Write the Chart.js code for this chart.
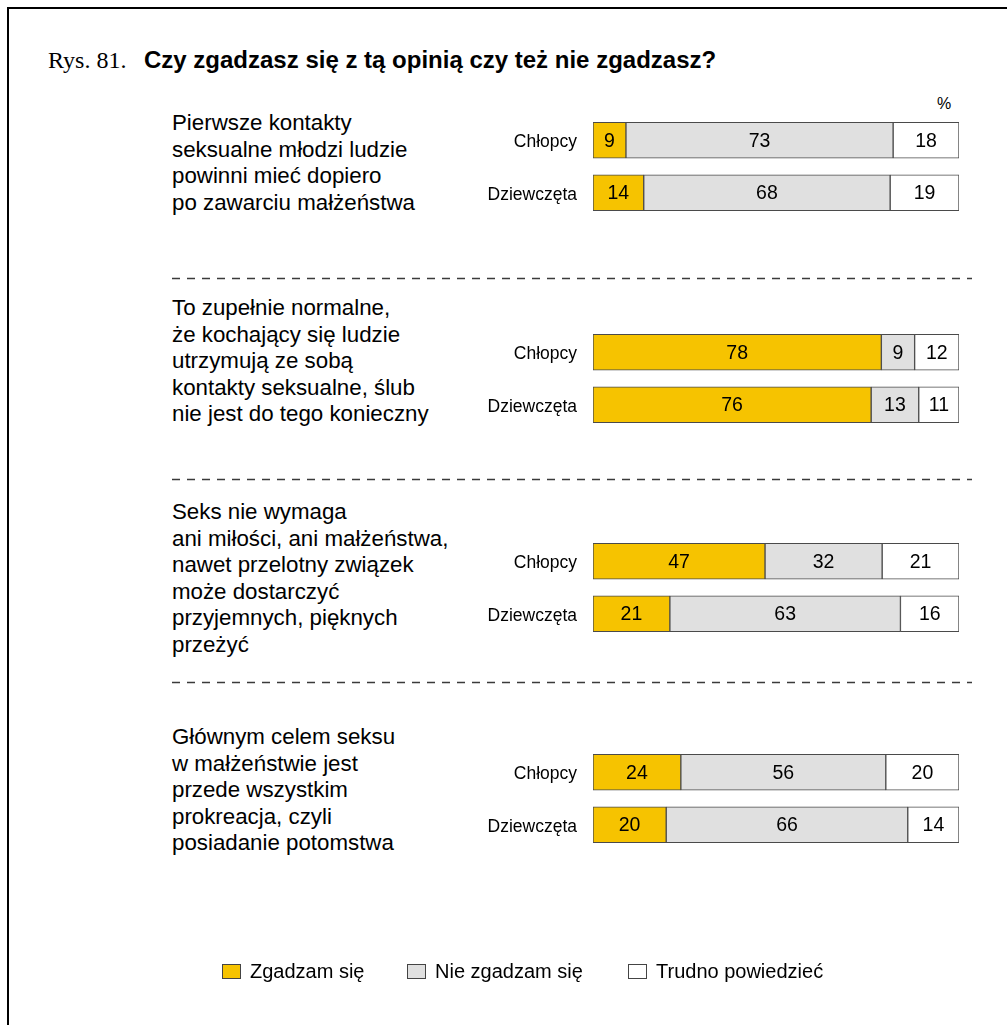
<!DOCTYPE html>
<html lang="pl">
<head>
<meta charset="utf-8">
<script src="https://cdn.jsdelivr.net/npm/chart.js@4/dist/chart.umd.min.js"></script>
<style>
  body {
    margin: 0;
    width: 1007px;
    height: 1025px;
    position: relative;
    overflow: hidden;
    background: #fff;
    font-family: "Liberation Sans", Arial, sans-serif;
    color: #000;
  }
  .frame {
    position: absolute;
    left: 7px; top: 7px; right: -10px; bottom: -10px;
    border-left: 2px solid #000;
    border-top: 2px solid #000;
  }
  .rys { position: absolute; left: 48px; top: 48px; font-size: 24px; line-height: 24px; white-space: nowrap;
         font-family: "Liberation Serif", "Times New Roman", serif; }
  .heading { position: absolute; left: 144px; top: 48px; font-size: 24px; line-height: 24px; white-space: nowrap; font-weight: bold; }
  .pct { position: absolute; left: 937px; top: 95px; font-size: 16px; line-height: 18px; }
  .question {
    position: absolute;
    left: 172px;
    font-size: 22.3px;
    line-height: 26.6px;
    white-space: nowrap;
  }
  .group { position: absolute; left: 470px; width: 489px; height: 105px; }
  #dashes { position: absolute; left: 0; top: 0; }
  .legend { position: absolute; top: 960px; left: 0; font-size: 20px; line-height: 22px; }
  .legend span.item { position: absolute; white-space: nowrap; }
  .legend i {
    position: absolute; top: 4px; left: 0; width: 17px; height: 13px;
    border: 1px solid #444;
  }
  .legend span.txt { position: absolute; top: 0; left: 28px; }
</style>
</head>
<body>
<div class="frame"></div>
<div class="rys">Rys. 81.</div>
<div class="heading">Czy zgadzasz się z tą opinią czy też nie zgadzasz?</div>
<div class="pct">%</div>

<div id="questions"></div>
<div id="charts"></div>
<svg id="dashes" width="1007" height="1025"></svg>
<div class="legend" id="legend"></div>

<script>
// --- data ---
const categories = ["Chłopcy", "Dziewczęta"];
const seriesNames = ["Zgadzam się", "Nie zgadzam się", "Trudno powiedzieć"];
const seriesColors = ["#F6C300", "#E0E0E0", "#FFFFFF"];

const questions = [
  ["Pierwsze kontakty", "seksualne młodzi ludzie", "powinni mieć dopiero", "po zawarciu małżeństwa"],
  ["To zupełnie normalne,", "że kochający się ludzie", "utrzymują ze sobą", "kontakty seksualne, ślub", "nie jest do tego konieczny"],
  ["Seks nie wymaga", "ani miłości, ani małżeństwa,", "nawet przelotny związek", "może dostarczyć", "przyjemnych, pięknych", "przeżyć"],
  ["Głównym celem seksu", "w małżeństwie jest", "przede wszystkim", "prokreacja, czyli", "posiadanie potomstwa"]
];

// one row per question: [Chłopcy, Dziewczęta]
const agree    = [[9, 14], [78, 76], [47, 21], [24, 20]];
const disagree = [[73, 68], [9, 13], [32, 63], [56, 66]];
const hard     = [[18, 19], [12, 11], [21, 16], [20, 14]];

// layout (px)
const questionTops = [110, 295, 499, 724];
const chartTops = [114, 325.5, 535, 745.5];
const dashY = [278.5, 479.5, 682.5];

// value labels drawn in the middle of each segment
const valueLabels = {
  id: "valueLabels",
  afterDatasetsDraw(chart) {
    const ctx = chart.ctx;
    ctx.save();
    ctx.font = "19.5px 'Liberation Sans', Arial, sans-serif";
    ctx.fillStyle = "#000";
    ctx.textAlign = "center";
    ctx.textBaseline = "middle";
    chart.data.datasets.forEach((ds, i) => {
      const meta = chart.getDatasetMeta(i);
      meta.data.forEach((bar, j) => {
        const x = (bar.x + bar.base) / 2;
        ctx.fillText(String(ds.raw[j]), x, bar.y + 1);
      });
    });
    ctx.restore();
  }
};

function makeChart(canvas, g) {
  const series = [agree[g], disagree[g], hard[g]];
  const totals = categories.map((_, j) => series.reduce((s, arr) => s + arr[j], 0));

  new Chart(canvas.getContext("2d"), {
    type: "bar",
    data: {
      labels: categories,
      datasets: series.map((vals, i) => ({
        label: seriesNames[i],
        raw: vals,
        data: vals.map((v, j) => v / totals[j] * 100),
        backgroundColor: seriesColors[i],
        borderColor: "#4a4a4a",
        borderWidth: 1,
        borderSkipped: false,
        barThickness: 36
      }))
    },
    options: {
      indexAxis: "y",
      responsive: false,
      animation: false,
      layout: { padding: 0 },
      plugins: { legend: { display: false }, tooltip: { enabled: false } },
      scales: {
        x: { stacked: true, min: 0, max: 100, display: false },
        y: {
          stacked: true,
          grid: { display: false, drawTicks: false },
          border: { display: false },
          ticks: {
            color: "#000",
            padding: 16,
            labelOffset: 2,
            font: { family: "'Liberation Sans', Arial, sans-serif", size: 17.5 }
          },
          afterFit(scale) {
            // fixed label column, no extra top/bottom room
            scale.width = 123;
            scale.paddingTop = 0;
            scale.paddingBottom = 0;
          }
        }
      }
    },
    plugins: [valueLabels]
  });
}

function buildQuestions() {
  const box = document.getElementById("questions");
  questions.forEach((lines, g) => {
    const div = document.createElement("div");
    div.className = "question";
    div.style.top = questionTops[g] + "px";
    div.innerHTML = lines.join("<br>");
    box.appendChild(div);
  });
}

function buildCharts() {
  const box = document.getElementById("charts");
  chartTops.forEach((top, g) => {
    const wrap = document.createElement("div");
    wrap.className = "group";
    wrap.style.top = top + "px";
    const canvas = document.createElement("canvas");
    canvas.width = 489;
    canvas.height = 105;
    wrap.appendChild(canvas);
    box.appendChild(wrap);
    makeChart(canvas, g);
  });
}

function buildDashes() {
  const svg = document.getElementById("dashes");
  dashY.forEach(y => {
    const line = document.createElementNS("http://www.w3.org/2000/svg", "line");
    line.setAttribute("x1", 172);
    line.setAttribute("x2", 972);
    line.setAttribute("y1", y);
    line.setAttribute("y2", y);
    line.setAttribute("stroke", "#3a3a3a");
    line.setAttribute("stroke-width", 1.3);
    line.setAttribute("stroke-dasharray", "8 7");
    svg.appendChild(line);
  });
}

function buildLegend() {
  const legend = document.getElementById("legend");
  const boxX = [222, 407, 628];
  seriesNames.forEach((name, i) => {
    const item = document.createElement("span");
    item.className = "item";
    item.style.left = boxX[i] + "px";
    item.innerHTML = `<i style="background:${seriesColors[i]}"></i><span class="txt">${name}</span>`;
    legend.appendChild(item);
  });
}

document.addEventListener("DOMContentLoaded", () => {
  buildQuestions();
  buildDashes();
  buildLegend();
  buildCharts();
});
</script>
</body>
</html>
